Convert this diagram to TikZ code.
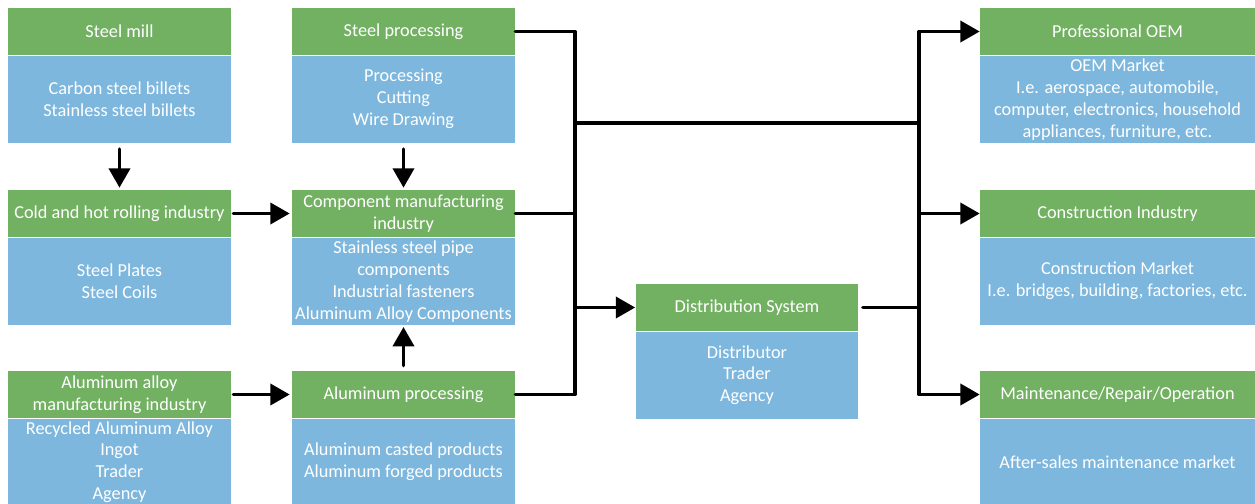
\documentclass[tikz,border=0pt]{standalone}
\usepackage{fontspec}
\setmainfont{Carlito}
\usetikzlibrary{arrows.meta, positioning, calc}

\definecolor{hdgreen}{RGB}{114,176,98}
\definecolor{bdblue}{RGB}{125,183,221}

\tikzset{
  hd/.style={fill=hdgreen, text=white, minimum height=0.94cm, inner sep=0pt, align=center,
    font=\fontsize{10.4}{12.5}\selectfont},
  bd/.style={fill=bdblue, text=white, minimum height=1.74cm, inner sep=0pt, align=center,
    font=\fontsize{10.4}{12.5}\selectfont},
  narrow/.style={minimum width=4.46cm},
  wide/.style={minimum width=5.5cm},
  flow/.style={line width=2pt}
}

\begin{document}
\begin{tikzpicture}[line cap=round,line join=round,>={Triangle[length=11pt,width=12pt]},x=0.02cm,y=-0.02cm]
\clip (0,0) rectangle (1255,504);

% left column
\node[hd, narrow] (mill-h) at (119.5, 31.5) {Steel mill};
\node[bd, narrow, below=0pt of mill-h] (mill-b) {Carbon steel billets\\Stainless steel billets};

\node[hd, narrow] (roll-h) at (119.5, 213.5) {Cold and hot rolling industry};
\node[bd, narrow, below=0pt of roll-h] (roll-b) {Steel Plates\\Steel Coils};

\node[hd, narrow] (alloy-h) at (119.5, 394.5) {Aluminum alloy\\manufacturing industry};
\node[bd, narrow, below=0pt of alloy-h] (alloy-b) {Recycled Aluminum Alloy\\Ingot\\Trader\\Agency};

% middle column
\node[hd, narrow] (proc-h) at (403.5, 31.5) {Steel processing};
\node[bd, narrow, below=0pt of proc-h] (proc-b) {Processing\\Cutting\\Wire Drawing};

\node[hd, narrow] (comp-h) at (403.5, 213.5) {Component manufacturing\\industry};
\node[bd, narrow, below=0pt of comp-h] (comp-b) {Stainless steel pipe\\components\\Industrial fasteners\\Aluminum Alloy Components};

\node[hd, narrow] (alp-h) at (403.5, 394.5) {Aluminum processing};
\node[bd, narrow, below=0pt of alp-h] (alp-b) {Aluminum casted products\\Aluminum forged products};

% distribution
\node[hd, narrow] (dist-h) at (747, 307.5) {Distribution System};
\node[bd, narrow, below=0pt of dist-h] (dist-b) {Distributor\\Trader\\Agency};

% right column
\node[hd, wide] (oem-h) at (1117.5, 31.5) {Professional OEM};
\node[bd, wide, below=0pt of oem-h] (oem-b) {OEM Market\\I.e. aerospace, automobile,\\computer, electronics, household\\appliances, furniture, etc.};

\node[hd, wide] (cons-h) at (1117.5, 213.5) {Construction Industry};
\node[bd, wide, below=0pt of cons-h] (cons-b) {Construction Market\\I.e. bridges, building, factories, etc.};

\node[hd, wide] (mro-h) at (1117.5, 394.5) {Maintenance/Repair/Operation};
\node[bd, wide, below=0pt of mro-h] (mro-b) {After-sales maintenance market};

\coordinate (split) at (575, 123);
\coordinate (merge) at (919, 123);

% arrows between boxes
\draw[flow, ->, shorten <=0.12cm, shorten >=0.04cm] (mill-b) -- (roll-h);
\draw[flow, ->, shorten <=0.12cm, shorten >=0.04cm] (proc-b) -- (comp-h);
\draw[flow, ->, shorten <=0.1cm, shorten >=0.04cm] (alp-h) -- (comp-b);
\draw[flow, ->, shorten <=0.04cm, shorten >=0.04cm] (roll-h) -- (comp-h);
\draw[flow, ->, shorten <=0.04cm, shorten >=0.04cm] (alloy-h) -- (alp-h);

% bracket into distribution
\draw[flow] (proc-h.east) -| (split) |- (alp-h.east);
\draw[flow] (comp-h.east) -- (comp-h.east -| split);
\draw[flow, ->] (dist-h.west -| split) -- (dist-h.west);
\draw[flow] (split) -- (merge);

% bracket to markets
\draw[flow] ([xshift=0.08cm]dist-h.east) -- (dist-h.east -| merge);
\draw[flow, ->] (merge) |- (oem-h.west);
\draw[flow, ->] (merge) |- (cons-h.west);
\draw[flow, ->] (merge) |- (mro-h.west);
\end{tikzpicture}
\end{document}
